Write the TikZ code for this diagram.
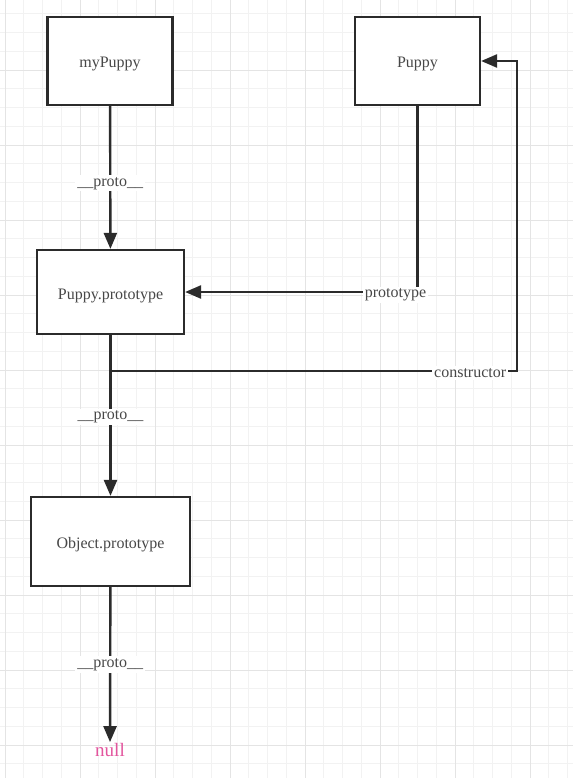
\documentclass[tikz,border=0pt]{standalone}
\usepackage{fontspec}
\setmainfont{Liberation Serif}
\usetikzlibrary{arrows.meta}
\definecolor{txt}{HTML}{474747}
\definecolor{nullc}{HTML}{E3559E}
\definecolor{gminor}{HTML}{F2F2F2}
\definecolor{gmajor}{HTML}{E4E4E4}
\definecolor{ink}{HTML}{2B2B2B}
\tikzset{
  box/.style={draw=ink, line width=2.2pt, fill=white, text=txt, font=\fontsize{16}{19}\selectfont, inner sep=0pt, text depth=0pt, text height=14pt},
  conn/.style={draw=ink, line width=2.4pt, -{Triangle[length=16pt,width=13pt]}},
  lbl/.style={fill=white, text=txt, font=\fontsize{16}{19}\selectfont, inner sep=2pt},
}
\begin{document}
\begin{tikzpicture}[x=1pt,y=-1pt]
\useasboundingbox (0,0) rectangle (573,778);
\fill[white] (0,0) rectangle (573,778);
% grid
\foreach \i in {0,...,30} \draw[gminor, line width=0.8pt] (5+18.75*\i,0) -- (5+18.75*\i,778);
\foreach \i in {0,...,41} \draw[gminor, line width=0.8pt] (0,13.75+18.75*\i) -- (573,13.75+18.75*\i);
\foreach \i in {0,...,7} \draw[gmajor, line width=0.9pt] (5+75*\i,0) -- (5+75*\i,778);
\foreach \i in {0,...,10} \draw[gmajor, line width=0.9pt] (0,70+75*\i) -- (573,70+75*\i);
% nodes
\node[box, minimum width=125pt, minimum height=88pt] (my) at (110,61) {myPuppy};
\node[box, minimum width=125pt, minimum height=88pt] (pup) at (417.5,61) {Puppy};
\node[box, minimum width=147pt, minimum height=84pt] (pp) at (110.5,292) {Puppy.prototype};
\node[box, minimum width=159pt, minimum height=89pt] (op) at (110.5,541.5) {Object.prototype};
\node[text=nullc, font=\fontsize{19}{22}\selectfont, inner sep=1pt] (nl) at (110,750) {null};
\coordinate (cs) at (110,371);
\coordinate (cr) at (517,371);
% connectors
\draw[conn] (my) -- node[lbl, pos=0.54] {\_\_proto\_\_} (pp);
\draw[conn] (pup) |- node[lbl, pos=0.5, xshift=-22pt, yshift=-3pt] {prototype} (pp);
\draw[conn] (pp) -- node[lbl, pos=0.51] {\_\_proto\_\_} (op);
\draw[conn] (op) -- node[lbl, pos=0.5] {\_\_proto\_\_} (nl);
\draw[conn] (cs) -- node[lbl, pos=0.885, yshift=-2pt] {constructor} (cr) |- (pup);
\end{tikzpicture}
\end{document}
